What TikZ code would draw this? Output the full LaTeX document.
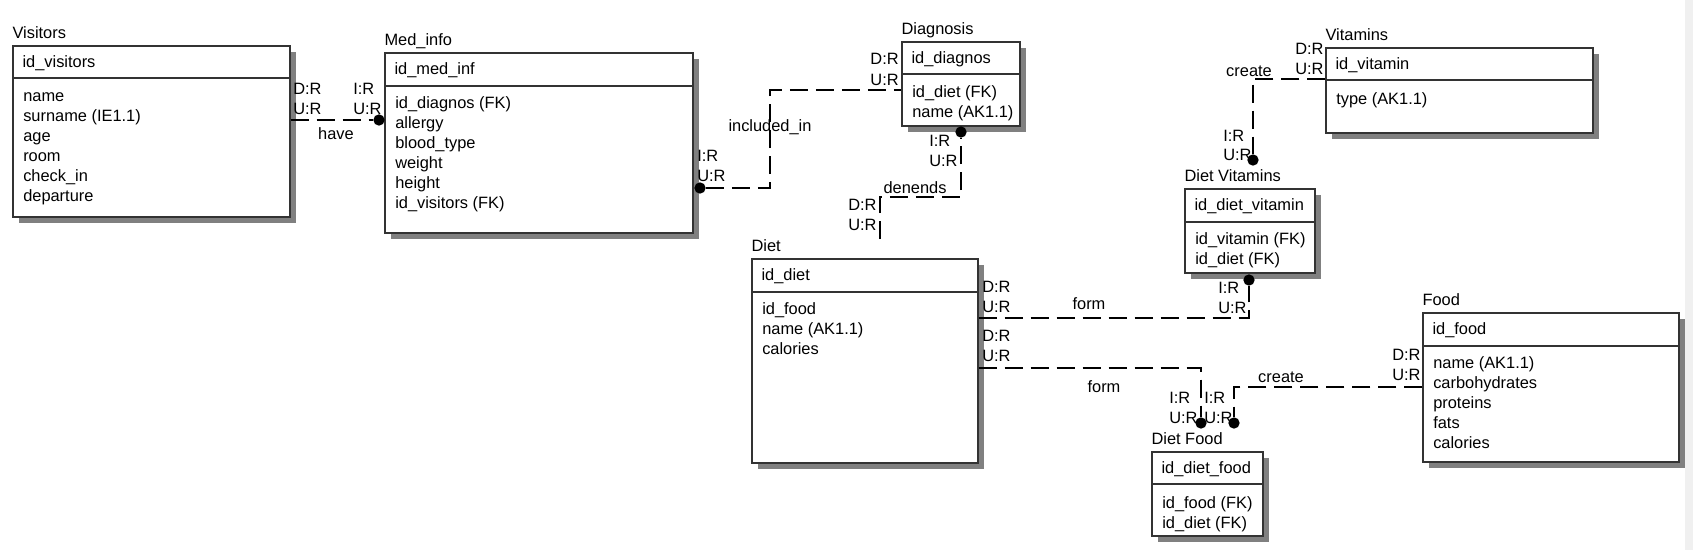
\documentclass[tikz,border=0pt]{standalone}
\usepackage{fontspec}
\setmainfont{Liberation Sans}
\usepackage{tikz}
\usetikzlibrary{fit,calc,positioning,shadows}
\definecolor{scrollgray}{HTML}{F0F0F0}
\tikzset{
every node/.style={font=\fontsize{12.3}{14}\selectfont}, % same size for every text
entity/.style={draw=black!80, line width=1.1pt, fill=white, inner sep=0pt,
  drop shadow={shadow xshift=4.5pt, shadow yshift=-4.5pt, fill=black!50, opacity=1}},
divider/.style={draw=black!80, line width=1.1pt},
title/.style={anchor=base west, inner sep=0pt},
attr/.style={anchor=base west, inner sep=0pt},
card/.style={anchor=base west, inner sep=0pt},
cardr/.style={anchor=base east, inner sep=0pt},
rname/.style={anchor=base, inner sep=0pt},
rel/.style={line width=0.8pt, dash pattern=on 13.5pt off 6pt},
dot/.style={circle, fill=black, inner sep=0pt, minimum size=8.5pt},
}

\begin{document}
\begin{tikzpicture}[x=0.75pt,y=0.75pt,yscale=-1,xscale=1]
\useasboundingbox (0,0) rectangle (1693,550);
\fill[scrollgray] (1685,0) rectangle (1693,550);
%Entity Visitors
\node[entity, fit={(13,46) (290,217)}] (vis) {};
\draw[divider] (vis.west |- 0,78) -- (vis.east |- 0,78);
\node[title] (visT) at ($(vis.north west)+(0,-7)$) {Visitors};
\node[attr] (visK) at ($(vis.north west)+(10,22)$) {id\_visitors};
\foreach \a [count=\i] in {name,surname (IE1.1),age,room,check\_in,departure}
  \node[attr] (vis\i) at (23,81+20*\i) {\a};
%Entity Med_info
\node[entity, fit={(385,53) (693,233)}] (med) {};
\draw[divider] (med.west |- 0,86) -- (med.east |- 0,86);
\node[title] (medT) at ($(med.north west)+(0,-7)$) {Med\_info};
\node[attr] (medK) at ($(med.north west)+(10,22)$) {id\_med\_inf};
\foreach \a [count=\i] in {id\_diagnos (FK),allergy,blood\_type,weight,height,id\_visitors (FK)}
  \node[attr] (med\i) at (395,88+20*\i) {\a};
%Entity Diagnosis
\node[entity, fit={(902,42) (1020,126)}] (diag) {};
\draw[divider] (diag.west |- 0,74) -- (diag.east |- 0,74);
\node[title] (diagT) at ($(diag.north west)+(0,-7)$) {Diagnosis};
\node[attr] (diagK) at ($(diag.north west)+(10,22)$) {id\_diagnos};
\foreach \a [count=\i] in {id\_diet (FK),name (AK1.1)}
  \node[attr] (diag\i) at (912,77+20*\i) {\a};
%Entity Vitamins
\node[entity, fit={(1326,48) (1593,133)}] (vit) {};
\draw[divider] (vit.west |- 0,80) -- (vit.east |- 0,80);
\node[title] (vitT) at ($(vit.north west)+(0,-7)$) {Vitamins};
\node[attr] (vitK) at ($(vit.north west)+(10,22)$) {id\_vitamin};
\node[attr] (vit1) at (1336,104) {type (AK1.1)};
%Entity Diet
\node[entity, fit={(752,259) (978,463)}] (diet) {};
\draw[divider] (diet.west |- 0,292) -- (diet.east |- 0,292);
\node[title] (dietT) at ($(diet.north west)+(0,-7)$) {Diet};
\node[attr] (dietK) at ($(diet.north west)+(10,22)$) {id\_diet};
\foreach \a [count=\i] in {id\_food,name (AK1.1),calories}
  \node[attr] (diet\i) at (762,294+20*\i) {\a};
%Entity Diet Vitamins
\node[entity, fit={(1185,189) (1315,273)}] (dv) {};
\draw[divider] (dv.west |- 0,222) -- (dv.east |- 0,222);
\node[title] (dvT) at ($(dv.north west)+(0,-7)$) {Diet Vitamins};
\node[attr] (dvK) at ($(dv.north west)+(10,22)$) {id\_diet\_vitamin};
\foreach \a [count=\i] in {id\_vitamin (FK),id\_diet (FK)}
  \node[attr] (dv\i) at (1195,224+20*\i) {\a};
%Entity Diet Food
\node[entity, fit={(1152,452) (1263,536)}] (df) {};
\draw[divider] (df.west |- 0,484) -- (df.east |- 0,484);
\node[title] (dfT) at ($(df.north west)+(0,-7)$) {Diet Food};
\node[attr] (dfK) at ($(df.north west)+(10,22)$) {id\_diet\_food};
\foreach \a [count=\i] in {id\_food (FK),id\_diet (FK)}
  \node[attr] (df\i) at (1162,488+20*\i) {\a};
%Entity Food
\node[entity, fit={(1423,313) (1679,462)}] (food) {};
\draw[divider] (food.west |- 0,346) -- (food.east |- 0,346);
\node[title] (foodT) at ($(food.north west)+(0,-7)$) {Food};
\node[attr] (foodK) at ($(food.north west)+(10,22)$) {id\_food};
\foreach \a [count=\i] in {name (AK1.1),carbohydrates,proteins,fats,calories}
  \node[attr] (food\i) at (1433,348+20*\i) {\a};
%Dots
\node[dot] (d1) at (379,120) {};
\node[dot] (d2) at (700,188) {};
\node[dot] (d3) at (961,132) {};
\node[dot] (d4) at (1253,160) {};
\node[dot] (d5) at (1249,280) {};
\node[dot] (d6) at (1201,423) {};
\node[dot] (d7) at (1234,423) {};
%Relationships
\coordinate (inc) at (770,90);
\coordinate (dep) at (880,197);
\coordinate (form1) at (diet.east |- 0,318);
\coordinate (form2) at (diet.east |- 0,368);
\coordinate (crf) at (food.west |- 0,387);
\coordinate (crv) at (vit.west |- 0,79);
\draw[rel] (vis.east |- d1) -- (d1);
\draw[rel] (d2) -| (inc) -- (diag.west |- inc);
\draw[rel] (dep |- dietT.north) -- (dep) -| (d3);
\draw[rel] (form1) -| (d5);
\draw[rel] (form2) -| (d6);
\draw[rel] (crf) -| (d7);
\draw[rel] (crv) -| (d4);
%Relationship names
\node[rname] (have) at (336,139) {have};
\node[rname] (incl) at (770,131) {included\_in};
\node[rname] (denends) at (915,193) {denends};
\node[rname] (formA) at (1089,309) {form};
\node[rname] (formB) at (1104,392) {form};
\node[rname] (createV) at (1249,76) {create};
\node[rname] (createF) at (1281,382) {create};
%Cardinalities
\node[card] at (293,94) {D:R};
\node[card] at (293,114) {U:R};
\node[card] at (353,94) {I:R};
\node[card] at (353,114) {U:R};
\node[card] at (697,161) {I:R};
\node[card] at (697,181) {U:R};
\node[cardr] at (899,64) {D:R};
\node[cardr] at (899,85) {U:R};
\node[card] at (929,146) {I:R};
\node[card] at (929,166) {U:R};
\node[card] at (848,210) {D:R};
\node[card] at (848,230) {U:R};
\node[card] at (982,292) {D:R};
\node[card] at (982,312) {U:R};
\node[card] at (982,341) {D:R};
\node[card] at (982,361) {U:R};
\node[card] at (1218,293) {I:R};
\node[card] at (1218,313) {U:R};
\node[card] at (1223,141) {I:R};
\node[card] at (1223,160) {U:R};
\node[card] at (1295,54) {D:R};
\node[card] at (1295,74) {U:R};
\node[card] at (1169,403) {I:R};
\node[card] at (1169,423) {U:R};
\node[card] at (1204,403) {I:R};
\node[card] at (1204,423) {U:R};
\node[card] at (1392,360) {D:R};
\node[card] at (1392,380) {U:R};
\end{tikzpicture}
\end{document}
